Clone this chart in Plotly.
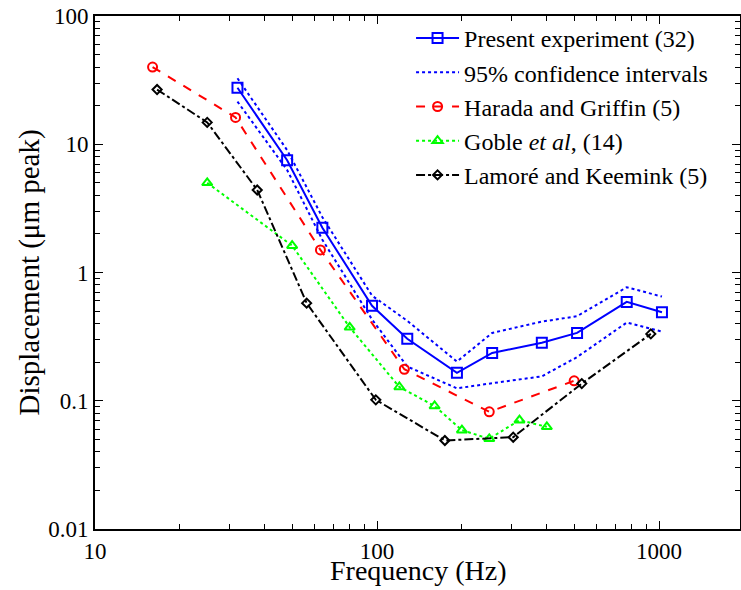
import plotly.graph_objects as go

# Present experiment (32)
present_freq = [32, 48, 64, 96, 128, 192, 256, 384, 512, 768, 1024]
present_mean = [27.6, 7.5, 2.23, 0.55, 0.304, 0.165, 0.236, 0.283, 0.338, 0.59, 0.49]
present_upper = [32.7, 9.0, 2.7, 0.66, 0.42, 0.202, 0.338, 0.414, 0.456, 0.768, 0.649]
present_lower = [21.5, 6.3, 1.8, 0.43, 0.185, 0.125, 0.137, 0.155, 0.219, 0.407, 0.346]

# Harada and Griffin (5)
harada_freq = [16, 31.5, 63, 125, 250, 500]
harada_disp = [40, 16.2, 1.5, 0.176, 0.082, 0.143]

# Goble et al (14)
goble_freq = [25, 50, 80, 120, 160, 200, 250, 320, 400]
goble_disp = [5.0, 1.62, 0.374, 0.128, 0.091, 0.059, 0.0505, 0.0706, 0.0626]

# Lamoré and Keemink (5)
lamore_freq = [16.6, 25, 37.6, 56.3, 99, 174, 304, 532, 935]
lamore_disp = [26.7, 14.8, 4.4, 0.577, 0.1016, 0.049, 0.052, 0.136, 0.332]

x_tickvals = [10, 100, 1000]
x_ticktext = ["10", "100", "1000"]
y_tickvals = [0.01, 0.1, 1, 10, 100]
y_ticktext = ["0.01", "0.1", "1", "10", "100"]

FONT = "'Liberation Serif', 'Times New Roman', 'DejaVu Serif', serif"
BLUE = "#0000FF"
RED = "#FF0000"
GREEN = "#00FF00"

fig = go.Figure()
fig.add_trace(go.Scatter(
    x=present_freq, y=present_mean, mode="lines+markers",
    name="Present experiment (32)",
    line=dict(color=BLUE, width=2),
    marker=dict(symbol="square-open", size=10, color=BLUE, line=dict(width=2, color=BLUE)),
))
fig.add_trace(go.Scatter(
    x=present_freq, y=present_upper, mode="lines",
    name="95% confidence intervals",
    line=dict(color=BLUE, width=2, dash="dot"),
))
fig.add_trace(go.Scatter(
    x=present_freq, y=present_lower, mode="lines",
    name="95% confidence intervals", showlegend=False,
    line=dict(color=BLUE, width=2, dash="dot"),
))
fig.add_trace(go.Scatter(
    x=harada_freq, y=harada_disp, mode="lines+markers",
    name="Harada and Griffin (5)",
    line=dict(color=RED, width=2, dash="dash"),
    marker=dict(symbol="circle-open", size=9, color=RED, line=dict(width=2, color=RED)),
))
fig.add_trace(go.Scatter(
    x=goble_freq, y=goble_disp, mode="lines+markers",
    name="Goble <i>et al</i>, (14)",
    line=dict(color=GREEN, width=2, dash="dot"),
    marker=dict(symbol="triangle-up-open", size=9, color=GREEN, line=dict(width=2, color=GREEN)),
))
fig.add_trace(go.Scatter(
    x=lamore_freq, y=lamore_disp, mode="lines+markers",
    name="Lamoré and Keemink (5)",
    line=dict(color="black", width=2, dash="dashdot"),
    marker=dict(symbol="diamond-open", size=7, color="black", line=dict(width=2, color="black")),
))

x_minor = [m * d for d in (10, 100, 1000) for m in range(2, 10) if m * d < 2000]
y_minor = [m * d for d in (0.01, 0.1, 1, 10) for m in range(2, 10)]

axis_common = dict(
    type="log", automargin=False,
    showgrid=False, zeroline=False,
    showline=True, linecolor="black", linewidth=2,
    mirror="allticks", ticks="inside", ticklen=8, tickwidth=1, tickcolor="black",
    tickfont=dict(family=FONT, size=23, color="black"),
)

fig.update_xaxes(
    **axis_common,
    range=[1, 3.287],
    tickmode="array", tickvals=x_tickvals, ticktext=x_ticktext,
    minor=dict(tickmode="array", tickvals=x_minor, ticks="inside", ticklen=5,
               tickwidth=1, tickcolor="black", showgrid=False),
)
fig.update_yaxes(
    **axis_common,
    range=[-2, 2],
    tickmode="array", tickvals=y_tickvals, ticktext=y_ticktext,
    minor=dict(tickmode="array", tickvals=y_minor, ticks="inside", ticklen=5,
               tickwidth=1, tickcolor="black", showgrid=False),
)

fig.add_annotation(
    text="Frequency (Hz)", xref="paper", yref="paper", x=0.5, y=-0.1155,
    xanchor="center", yanchor="bottom", showarrow=False,
    font=dict(family=FONT, size=28, color="black"),
)
fig.add_annotation(
    text="Displacement (μm peak)", xref="paper", yref="paper", x=-0.1008, y=0.5,
    xanchor="center", yanchor="middle", showarrow=False, textangle=-90,
    font=dict(family=FONT, size=29, color="black"),
)

fig.update_layout(
    width=741, height=590,
    margin=dict(l=95, r=1, t=16, b=61, autoexpand=False),
    paper_bgcolor="white", plot_bgcolor="white",
    font=dict(family=FONT, color="black"),
    legend=dict(
        x=0.49, y=1.0, xanchor="left", yanchor="top",
        font=dict(family=FONT, size=24, color="black"),
        bgcolor="rgba(255,255,255,0)", borderwidth=0,
        tracegroupgap=0, itemwidth=43,
    ),
    showlegend=True,
)

fig.write_html(
    "out.html",
    config={"displayModeBar": False},
    post_script="document.body.style.margin='0';document.body.style.overflow='hidden';",
)
